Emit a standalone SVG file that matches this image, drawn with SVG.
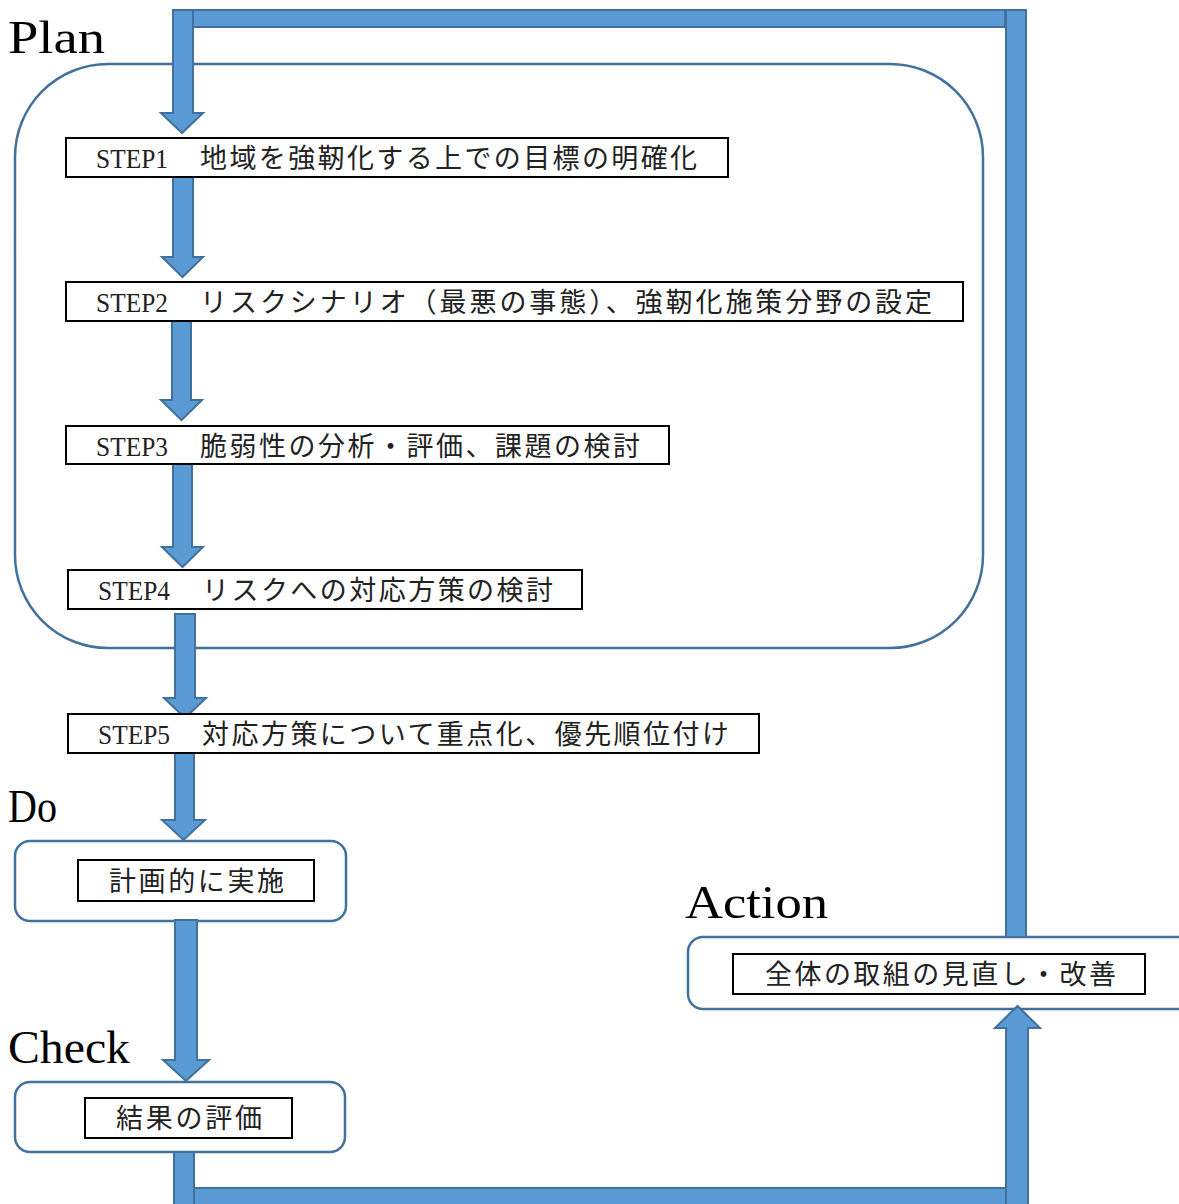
<svg xmlns="http://www.w3.org/2000/svg" width="1179" height="1204" viewBox="0 0 1179 1204">
<style>
.bg{fill:#fff}
.phase{fill:#fff;stroke:#41719C;stroke-width:2.5}
.box{fill:#fff;stroke:#000;stroke-width:2}
.arr{fill:#5B9BD5;stroke:#41719C;stroke-width:2}
.t{font-family:"Liberation Serif","Noto Sans CJK JP",serif;font-size:27px;fill:#222}
.lbl{font-family:"Liberation Serif",serif;font-size:46px;fill:#000}
</style>
<rect class="bg" x="0" y="0" width="1179" height="1204"/>
<g id="phases">
<rect id="plan-area" class="phase" x="15" y="64" width="968" height="584" rx="93" ry="93"/>
<rect id="do-area" class="phase" x="15" y="841" width="331" height="80" rx="15" ry="15"/>
<rect id="check-area" class="phase" x="15" y="1082" width="330" height="70" rx="15" ry="15"/>
<rect id="action-area" class="phase" x="688" y="937" width="520" height="72" rx="15" ry="15"/>
</g>
<g id="labels">
<text class="lbl" x="8" y="53" textLength="97" lengthAdjust="spacingAndGlyphs">Plan</text>
<text class="lbl" x="8" y="822" textLength="49" lengthAdjust="spacingAndGlyphs">Do</text>
<text class="lbl" x="8" y="1063" textLength="122" lengthAdjust="spacingAndGlyphs">Check</text>
<text class="lbl" x="685" y="918" textLength="143" lengthAdjust="spacingAndGlyphs">Action</text>
</g>
<g id="connectors">
<rect class="arr" x="191" y="10" width="814" height="17"/>
<rect class="arr" x="1006" y="10" width="20" height="927"/>
<polygon class="arr" points="173,10 193,10 193,113 203,113 182,133 161,113 173,113"/>
<polygon class="arr" points="173,177 193,177 193,257 203,257 182.5,277 162,257 173,257"/>
<polygon class="arr" points="172,321 191,321 191,400 202,400 181.5,420 161,400 172,400"/>
<polygon class="arr" points="173,464 192,464 192,547 203,547 182.5,567 162,547 173,547"/>
<polygon class="arr" points="175,614 195,614 195,698 206,698 185,718 164,698 175,698"/>
<polygon class="arr" points="175,753 194,753 194,820 205,820 183.5,840 162,820 175,820"/>
<polygon class="arr" points="175,920 197,920 197,1060 209,1060 186,1081 163,1060 175,1060"/>
<rect class="arr" x="174" y="1152" width="20" height="60"/>
<rect class="arr" x="194" y="1188" width="812" height="24"/>
<polygon class="arr" points="1006,1212 1006,1028 995,1028 1017.5,1006 1040,1028 1028,1028 1028,1212"/>
</g>
<g id="step1"><rect class="box" x="66" y="138" width="662" height="39"/><text class="t" y="168"><tspan x="96" textLength="72" lengthAdjust="spacingAndGlyphs">STEP1</tspan><tspan x="200" textLength="497" lengthAdjust="spacing">地域を強靭化する上での目標の明確化</tspan></text></g>
<g id="step2"><rect class="box" x="66" y="282" width="897" height="39"/><text class="t" y="312"><tspan x="96" textLength="72" lengthAdjust="spacingAndGlyphs">STEP2</tspan><tspan x="200" textLength="732" lengthAdjust="spacing">リスクシナリオ（最悪の事態）、強靭化施策分野の設定</tspan></text></g>
<g id="step3"><rect class="box" x="66" y="426" width="603" height="38"/><text class="t" y="456"><tspan x="96" textLength="72" lengthAdjust="spacingAndGlyphs">STEP3</tspan><tspan x="200" textLength="440" lengthAdjust="spacing">脆弱性の分析・評価、課題の検討</tspan></text></g>
<g id="step4"><rect class="box" x="68" y="570" width="514" height="39"/><text class="t" y="600"><tspan x="98" textLength="72" lengthAdjust="spacingAndGlyphs">STEP4</tspan><tspan x="202" textLength="351" lengthAdjust="spacing">リスクへの対応方策の検討</tspan></text></g>
<g id="step5"><rect class="box" x="68" y="714" width="691" height="39"/><text class="t" y="744"><tspan x="98" textLength="72" lengthAdjust="spacingAndGlyphs">STEP5</tspan><tspan x="202" textLength="527" lengthAdjust="spacing">対応方策について重点化、優先順位付け</tspan></text></g>
<g id="do"><rect class="box" x="78" y="860" width="236" height="41"/><text class="t" x="109" y="891" textLength="175" lengthAdjust="spacing">計画的に実施</text></g>
<g id="check"><rect class="box" x="85" y="1098" width="207" height="40"/><text class="t" x="116" y="1128" textLength="146" lengthAdjust="spacing">結果の評価</text></g>
<g id="action"><rect class="box" x="733" y="954" width="412" height="40"/><text class="t" x="765" y="984" textLength="351" lengthAdjust="spacing">全体の取組の見直し・改善</text></g>
</svg>
